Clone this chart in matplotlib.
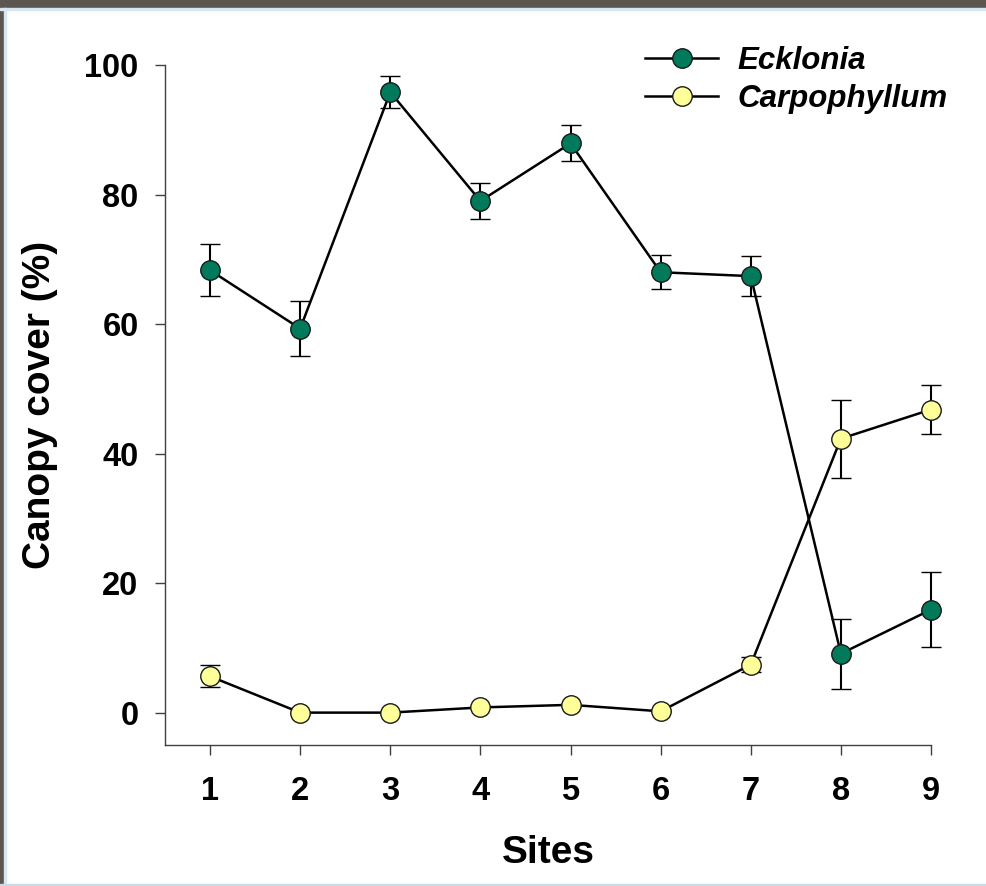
import matplotlib
matplotlib.use("Agg")
import matplotlib.pyplot as plt
from matplotlib.patches import Rectangle
from matplotlib.lines import Line2D

plt.rcParams['font.family'] = ['Liberation Sans', 'DejaVu Sans']

sites = [1, 2, 3, 4, 5, 6, 7, 8, 9]
ecklonia = [68.3, 59.3, 95.8, 79.0, 87.9, 68.0, 67.4, 9.1, 15.9]
ecklonia_se = [4.0, 4.3, 2.5, 2.8, 2.8, 2.6, 3.1, 5.4, 5.8]
carpo = [5.6, 0.0, 0.0, 0.8, 1.2, 0.2, 7.4, 42.3, 46.8]
carpo_se = [1.7, 0.0, 0.0, 0.0, 0.0, 0.0, 1.2, 6.0, 3.8]
green, yellow = "#007a5a", "#ffff99"

W, H = 986, 886
fig = plt.figure(figsize=(W / 100, H / 100), dpi=100)
ax = fig.add_axes([165 / W, 1 - 745 / H, (931 - 165) / W, (745 - 65) / H])

# frame like the screenshot border
fig.patches.append(Rectangle((0, 1 - 8 / H), 1, 8 / H, transform=fig.transFigure, color="#5b5650", zorder=0))
fig.patches.append(Rectangle((0, 0), 4 / W, 1, transform=fig.transFigure, color="#5b5650", zorder=0))
fig.patches.append(Rectangle((0, 1 - 10 / H), 1, 2 / H, transform=fig.transFigure, color="#d6e6f2", zorder=0))
fig.patches.append(Rectangle((4 / W, 0), 2 / W, 1 - 8 / H, transform=fig.transFigure, color="#d6e6f2", zorder=0))
fig.patches.append(Rectangle((0, 0), 1, 2 / H, transform=fig.transFigure, color="#c9dbe6", zorder=0))

mk = dict(markersize=14, markeredgecolor="#1a1a1a", markeredgewidth=1.0)
common = dict(color="black", lw=1.8, elinewidth=1.5, capsize=7.5, capthick=1.5, **mk)
for y, e, fc, z in [(ecklonia, ecklonia_se, green, 3), (carpo, carpo_se, yellow, 4)]:
    cont = ax.errorbar(sites, y, yerr=e, marker="o", markerfacecolor=fc, zorder=z, **common)
    for art in cont.lines[1] + cont.lines[2] + (cont.lines[0],):
        art.set_clip_on(False)

ax.set_xlim(0.5, 9)
ax.set_ylim(-5, 100)
ax.set_xticks(sites)
ax.set_yticks([0, 20, 40, 60, 80, 100])
for s in ["top", "right"]:
    ax.spines[s].set_visible(False)
for s in ["left", "bottom"]:
    ax.spines[s].set_color("#404040")
    ax.spines[s].set_linewidth(1.0)
ax.tick_params(direction="out", length=7, width=1.0, color="#404040", labelsize=23.5)
ax.tick_params(axis="y", pad=12)
ax.tick_params(axis="x", pad=15)
for t in ax.get_xticklabels() + ax.get_yticklabels():
    t.set_fontweight("bold")

fig.text(548 / W, 1 - 853 / H, "Sites", ha="center", va="center", fontsize=28, fontweight="bold")
fig.text(40 / W, 1 - 405 / H, "Canopy cover (%)", ha="center", va="center", rotation=90,
         fontsize=28, fontweight="bold")

handles = [Line2D([], [], color="black", lw=1.8, marker="o", markerfacecolor=green, **mk),
           Line2D([], [], color="black", lw=1.8, marker="o", markerfacecolor=yellow, **mk)]
ax.legend(handles, ["Ecklonia", "Carpophyllum"], loc="upper left",
          bbox_to_anchor=(645 / W, 1 - 46 / H), bbox_transform=fig.transFigure,
          frameon=False, borderpad=0, borderaxespad=0, handlelength=2.35, handletextpad=0.6,
          labelspacing=0.25, prop=dict(size=22.5, weight="bold", style="italic"))

fig.savefig("out.png", dpi=100)
